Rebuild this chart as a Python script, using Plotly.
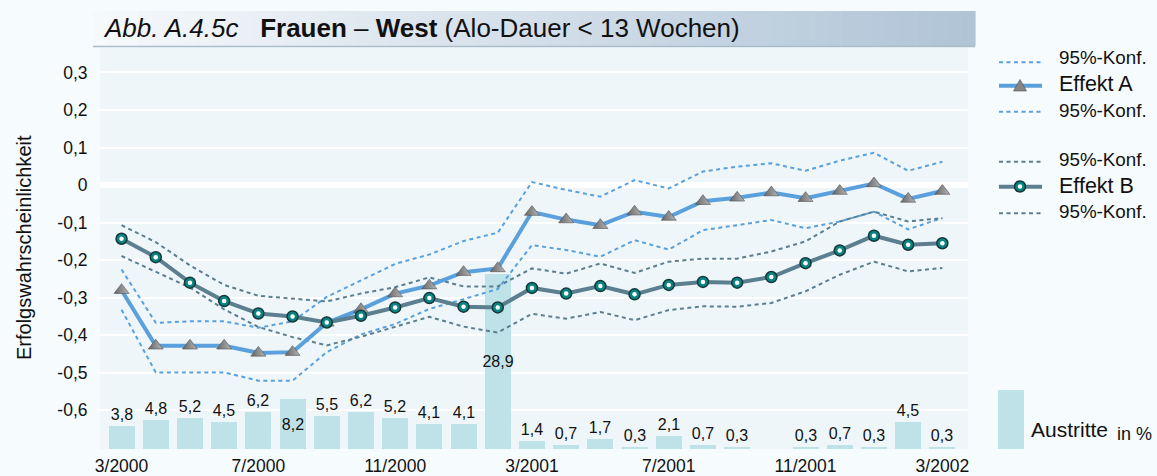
import plotly.graph_objects as go

# ---------------- data ----------------
months = list(range(25))
x_tick_vals = [0, 4, 8, 12, 16, 20, 24]
x_tick_text = ["3/2000", "7/2000", "11/2000", "3/2001", "7/2001", "11/2001", "3/2002"]
y_tick_vals = [0.3, 0.2, 0.1, 0, -0.1, -0.2, -0.3, -0.4, -0.5, -0.6]
y_tick_text = ["0,3", "0,2", "0,1", "0", "-0,1", "-0,2", "-0,3", "-0,4", "-0,5", "-0,6"]

effekt_a = [-0.28, -0.428, -0.428, -0.428, -0.447, -0.445, -0.367, -0.331, -0.289, -0.268,
            -0.232, -0.222, -0.072, -0.092, -0.107, -0.071, -0.085, -0.043, -0.034, -0.02,
            -0.035, -0.016, 0.004, -0.037, -0.016]
konf_a_upper = [-0.225, -0.367, -0.363, -0.363, -0.38, -0.363, -0.298, -0.255, -0.21, -0.185,
                -0.149, -0.127, 0.008, -0.013, -0.031, 0.013, -0.009, 0.036, 0.049, 0.058,
                0.038, 0.065, 0.086, 0.038, 0.062]
konf_a_lower = [-0.332, -0.499, -0.499, -0.499, -0.521, -0.521, -0.445, -0.398, -0.37, -0.33,
                -0.304, -0.277, -0.16, -0.173, -0.191, -0.147, -0.172, -0.12, -0.107, -0.093,
                -0.115, -0.097, -0.071, -0.118, -0.088]

effekt_b = [-0.143, -0.192, -0.26, -0.309, -0.342, -0.35, -0.366, -0.348, -0.326, -0.301,
            -0.324, -0.326, -0.274, -0.289, -0.269, -0.291, -0.266, -0.258, -0.26, -0.245,
            -0.208, -0.174, -0.135, -0.159, -0.155]
konf_b_upper = [-0.107, -0.152, -0.214, -0.266, -0.295, -0.303, -0.31, -0.289, -0.272, -0.246,
                -0.27, -0.27, -0.222, -0.236, -0.209, -0.234, -0.204, -0.196, -0.196, -0.177,
                -0.15, -0.097, -0.071, -0.097, -0.088]
konf_b_lower = [-0.189, -0.23, -0.273, -0.331, -0.378, -0.405, -0.427, -0.404, -0.377, -0.351,
                -0.377, -0.393, -0.343, -0.356, -0.338, -0.36, -0.333, -0.323, -0.324, -0.314,
                -0.283, -0.239, -0.204, -0.23, -0.221]

austritte = [3.8, 4.8, 5.2, 4.5, 6.2, 8.2, 5.5, 6.2, 5.2, 4.1, 4.1, 28.9, 1.4, 0.7, 1.7, 0.3,
             2.1, 0.7, 0.3, None, 0.3, 0.7, 0.3, 4.5, 0.3]

# ---------------- styles ----------------
FONT = "Liberation Sans, Arial, sans-serif"
COL_A = "#5aa0dc"
COL_B = "#5b7f8e"
COL_BAR = "#bfe2e9"
COL_TXT = "#111111"
W, H = 1157, 476
L, R, T, B = 100, 968, 48, 449


def px(xp):
    return (xp - L) / (R - L)


def py(yp):
    return (B - yp) / (B - T)


bar_text = ["" if v is None else f"{v:.1f}".replace(".", ",") for v in austritte]
bar_pos = ["inside" if (v is not None and v >= 8) else "outside" for v in austritte]

fig = go.Figure()

fig.add_trace(go.Bar(
    x=months, y=austritte, yaxis="y", width=0.76,
    marker=dict(color=COL_BAR, line=dict(width=0)),
    text=bar_text, textposition=bar_pos, insidetextanchor="middle",
    textangle=0, constraintext="none", cliponaxis=False,
    textfont=dict(family=FONT, size=16, color=COL_TXT),
    insidetextfont=dict(family=FONT, size=16, color=COL_TXT),
    outsidetextfont=dict(family=FONT, size=16, color=COL_TXT),
    hoverinfo="skip",
))

dash = "4px,3.5px"
for series, col in [(konf_a_upper, COL_A), (konf_a_lower, COL_A),
                    (konf_b_upper, COL_B), (konf_b_lower, COL_B)]:
    fig.add_trace(go.Scatter(x=months, y=series, yaxis="y2", mode="lines",
                             line=dict(color=col, width=2, dash=dash)))

fig.add_trace(go.Scatter(
    x=months, y=effekt_a, yaxis="y2", mode="lines+markers",
    line=dict(color=COL_A, width=4),
    marker=dict(symbol="triangle-up", size=13, color="#666666",
                gradient=dict(type="horizontal", color="#b5b5b5"),
                line=dict(width=0.6, color="#505050")),
))
fig.add_trace(go.Scatter(
    x=months, y=effekt_b, yaxis="y2", mode="lines+markers",
    line=dict(color=COL_B, width=4),
    marker=dict(symbol="circle", size=11, color="#0a8483",
                line=dict(width=1.5, color="#153838")),
))
fig.add_trace(go.Scatter(
    x=months, y=effekt_b, yaxis="y2", mode="markers",
    marker=dict(symbol="circle", size=4.5, color="white", line=dict(width=0)),
))

# ---------------- decorations ----------------
shapes = []
# title band gradient
n = 60
x0p, x1p, y0p, y1p = 93, 975, 11, 46
c0 = (246, 249, 252)
c1 = (176, 196, 214)
for i in range(n):
    t = i / (n - 1)
    c = tuple(int(round(c0[k] + (c1[k] - c0[k]) * t)) for k in range(3))
    xa = x0p + (x1p - x0p) * i / n
    xb = x0p + (x1p - x0p) * (i + 1) / n + 0.6
    shapes.append(dict(type="rect", xref="paper", yref="paper",
                       x0=px(xa), x1=px(xb), y0=py(y1p), y1=py(y0p),
                       fillcolor=f"rgb{c}", line=dict(width=0), layer="above"))
shapes.append(dict(type="line", xref="paper", yref="paper", x0=px(x0p), x1=px(x1p),
                   y0=py(46.5), y1=py(46.5), line=dict(color="#a9bccb", width=1.5), layer="above"))

# legend lines
leg_x0, leg_x1 = 999, 1042
leg_rows = [(62.3, COL_A, "dot"), (85.7, COL_A, "solid"), (111.7, COL_A, "dot"),
            (161.7, COL_B, "dot"), (186.7, COL_B, "solid"), (213.3, COL_B, "dot")]
for yy, col, kind in leg_rows:
    shapes.append(dict(type="line", xref="paper", yref="paper",
                       x0=px(leg_x0), x1=px(leg_x1), y0=py(yy), y1=py(yy),
                       line=dict(color=col, width=2 if kind == "dot" else 4,
                                 dash=dash if kind == "dot" else "solid")))
# legend triangle
tx, ty = 1020, 85.5
tri = (f"M {px(tx-6.5)} {py(ty+5.5)} L {px(tx+6.5)} {py(ty+5.5)} "
       f"L {px(tx)} {py(ty-6)} Z")
shapes.append(dict(type="path", xref="paper", yref="paper", path=tri,
                   fillcolor="#858585", line=dict(color="#505050", width=0.6)))
# legend circle
cx, cy = 1020, 186.5
shapes.append(dict(type="circle", xref="paper", yref="paper",
                   x0=px(cx-5.5), x1=px(cx+5.5), y0=py(cy+5.5), y1=py(cy-5.5),
                   fillcolor="#0a8483", line=dict(color="#153838", width=1.5)))
shapes.append(dict(type="circle", xref="paper", yref="paper",
                   x0=px(cx-2.2), x1=px(cx+2.2), y0=py(cy+2.2), y1=py(cy-2.2),
                   fillcolor="white", line=dict(width=0)))
# legend bar
shapes.append(dict(type="rect", xref="paper", yref="paper",
                   x0=px(998), x1=px(1024), y0=py(449), y1=py(390),
                   fillcolor=COL_BAR, line=dict(width=0)))

annotations = []
annotations.append(dict(
    xref="paper", yref="paper", x=px(101), y=py(28.5), xanchor="left", yanchor="middle",
    showarrow=False, font=dict(family=FONT, size=26, color=COL_TXT),
    text="<i>Abb. A.4.5c</i>\u00a0\u00a0\u00a0<b>Frauen</b>\u00a0\u2013\u00a0<b>West</b> (Alo-Dauer &lt; 13 Wochen)"))
annotations.append(dict(
    xref="paper", yref="paper", x=px(24), y=py(248), xanchor="center", yanchor="middle",
    textangle=-90, showarrow=False, font=dict(family=FONT, size=20, color=COL_TXT),
    text="Erfolgswahrscheinlichkeit"))
leg_text = [(57.5, "95%-Konf.", 18.8), (83.5, "Effekt A", 21.5), (110.5, "95%-Konf.", 18.8),
            (159.5, "95%-Konf.", 18.8), (185.5, "Effekt B", 21.5), (212, "95%-Konf.", 18.8)]
for yy, txt, sz in leg_text:
    annotations.append(dict(xref="paper", yref="paper", x=px(1057), y=py(yy),
                            xanchor="left", yanchor="middle", showarrow=False,
                            font=dict(family=FONT, size=sz, color=COL_TXT), text=txt))
annotations.append(dict(xref="paper", yref="paper", x=px(1029), y=py(429.5),
                        xanchor="left", yanchor="middle", showarrow=False,
                        font=dict(family=FONT, size=21, color=COL_TXT), text="Austritte"))
annotations.append(dict(xref="paper", yref="paper", x=px(1115), y=py(433.5),
                        xanchor="left", yanchor="middle", showarrow=False,
                        font=dict(family=FONT, size=18, color=COL_TXT), text="in %"))

fig.update_layout(
    width=W, height=H,
    margin=dict(l=L, r=W - R, t=T, b=H - B, pad=0, autoexpand=False),
    paper_bgcolor="#f6fbfd", plot_bgcolor="#eef6fa",
    showlegend=False, bargap=0,
    font=dict(family=FONT, size=17, color=COL_TXT),
    xaxis=dict(range=[-0.63, 24.75], tickmode="array", tickvals=x_tick_vals,
               ticktext=x_tick_text, showgrid=False, zeroline=False, showline=False,
               ticks="outside", ticklen=1, tickcolor="rgba(0,0,0,0)", automargin=False,
               tickfont=dict(family=FONT, size=17.5, color=COL_TXT)),
    yaxis=dict(range=[0, 66.3], visible=False, showgrid=False, zeroline=False),
    yaxis2=dict(range=[-0.703, 0.365], overlaying="y", side="left", anchor="x",
                tickmode="array", tickvals=y_tick_vals, ticktext=y_tick_text,
                showgrid=True, gridcolor="white", gridwidth=2,
                zeroline=True, zerolinecolor="white", zerolinewidth=6,
                ticks="outside", ticklen=8, tickcolor="rgba(0,0,0,0)", automargin=False,
                tickfont=dict(family=FONT, size=17.5, color=COL_TXT)),
    shapes=shapes, annotations=annotations,
)

fig.write_html("out.html", config={"displayModeBar": False},
               post_script="document.body.style.margin='0px';document.body.style.overflow='hidden';")
